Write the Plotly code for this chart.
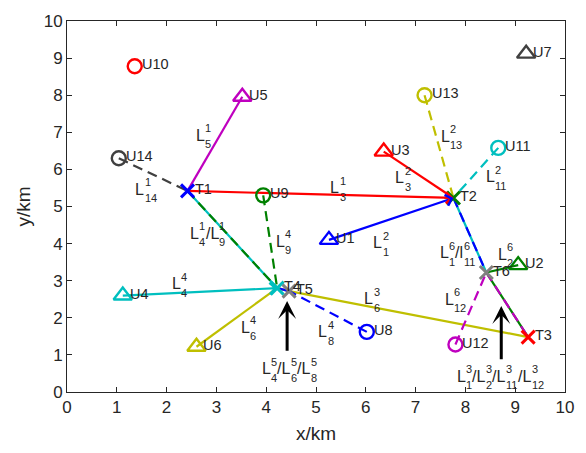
import plotly.graph_objects as go

# ---- node coordinates (km) ----
user_names = ["U1", "U2", "U3", "U4", "U5", "U6", "U7",
              "U8", "U9", "U10", "U11", "U12", "U13", "U14"]
user_x = [5.26, 9.06, 6.36, 1.12, 3.52, 2.60, 9.22,
          6.02, 3.94, 1.36, 8.66, 7.80, 7.18, 1.04]
user_y = [4.10, 3.42, 6.48, 2.60, 7.96, 1.22, 9.12,
          1.62, 5.30, 8.78, 6.58, 1.28, 8.00, 6.30]

relay_names = ["T1", "T2", "T3", "T4", "T5", "T6"]
relay_x = [2.42, 7.76, 9.26, 4.22, 4.46, 8.42]
relay_y = [5.42, 5.23, 1.48, 2.80, 2.72, 3.22]

# ---- links: (from, to, colour key, dashed, arrowhead) ----
links = [
    ("U5", "T1", "m", False, True),
    ("U14", "T1", "k", True, False),
    ("T1", "T2", "r", False, True),
    ("U3", "T2", "r", False, True),
    ("U13", "T2", "y", True, False),
    ("U11", "T2", "c", True, False),
    ("U1", "T2", "b", False, True),
    ("T1", "T4", "c", False, False),
    ("T1", "T4", "g", True, False),
    ("U9", "T4", "g", True, False),
    ("U4", "T4", "c", False, True),
    ("U6", "T4", "y", False, True),
    ("T4", "T5", "y", False, False),
    ("T5", "T3", "y", False, False),
    ("U8", "T5", "b", True, False),
    ("T5", "T4", "b", True, False),
    ("T2", "T6", "c", False, False),
    ("T2", "T6", "b", True, False),
    ("U2", "T6", "g", False, True),
    ("U12", "T6", "m", True, False),
    ("T6", "T3", "g", False, False),
    ("T6", "T3", "m", True, False),
]

# ---- link labels: anchor (km) and (base, subscript, superscript) pieces ----
link_labels = [
    (2.68, 6.92, [("L", "5", "1")]),
    (1.46, 5.46, [("L", "14", "1")]),
    (5.38, 5.51, [("L", "3", "1")]),
    (6.68, 5.77, [("L", "3", "2")]),
    (7.60, 6.89, [("L", "13", "2")]),
    (8.50, 5.80, [("L", "11", "2")]),
    (6.24, 4.02, [("L", "1", "2")]),
    (7.58, 3.76, [("L", "1", "6"), ("/l", "11", "6")]),
    (8.74, 3.71, [("L", "2", "6")]),
    (7.68, 2.50, [("L", "12", "6")]),
    (6.06, 2.51, [("L", "6", "3")]),
    (5.14, 1.62, [("L", "8", "4")]),
    (3.58, 1.75, [("L", "6", "4")]),
    (2.20, 2.92, [("L", "4", "4")]),
    (4.28, 4.07, [("L", "9", "4")]),
    (2.56, 4.28, [("L", "4", "1"), ("/L", "9", "1")]),
    (4.00, 0.63, [("L", "4", "5"), ("/L", "6", "5"), ("/L", "8", "5")]),
    (7.92, 0.42, [("L", "1", "3"), ("/L", "2", "3"), ("/L", "11", "3"), ("/L", "12", "3")]),
]

# ---- pointer arrows (x, tail y, tip y) ----
pointer_x = [4.42, 8.72]
pointer_tail_y = [1.07, 0.84]
pointer_tip_y = [2.45, 2.32]

COL = {
    "b": "#0000FF", "g": "#008000", "r": "#FF0000", "c": "#00BFBF",
    "m": "#BF00BF", "y": "#BFBF00", "k": "#404040", "gray": "#808080",
}
user_cols = ["b", "g", "r", "c", "m", "y", "k"] * 2
relay_cols = ["b", "g", "r", "c", "gray", "gray"]
FONT = "Liberation Sans, Arial, sans-serif"
TXT = "#262626"

pos = {n: (x, y) for n, x, y in zip(user_names, user_x, user_y)}
pos.update({n: (x, y) for n, x, y in zip(relay_names, relay_x, relay_y)})

fig = go.Figure()
annotations = []

for a, b, ck, dashed, arrow in links:
    (x0, y0), (x1, y1) = pos[a], pos[b]
    fig.add_trace(go.Scatter(
        x=[x0, x1], y=[y0, y1], mode="lines", hoverinfo="skip",
        line=dict(color=COL[ck], width=2.2, dash="10px,6px" if dashed else "solid"),
        showlegend=False))
    if arrow:
        # short shaft near the end so only the head is added on top of the line
        sx, sy = x1 - 0.04 * (x1 - x0), y1 - 0.04 * (y1 - y0)
        annotations.append(dict(
            x=x1, y=y1, ax=sx, ay=sy, xref="x", yref="y", axref="x", ayref="y",
            text="", showarrow=True, arrowhead=4, arrowsize=1.1, arrowwidth=2,
            arrowcolor=COL[ck], standoff=0, startstandoff=0))

# users: first seven triangles, last seven circles
for i, (n, x, y) in enumerate(zip(user_names, user_x, user_y)):
    sym = "triangle-up-open" if i < 7 else "circle-open"
    fig.add_trace(go.Scatter(
        x=[x], y=[y], mode="markers", hoverinfo="skip", showlegend=False,
        marker=dict(symbol=sym, size=16 if i < 7 else 14,
                    color=COL[user_cols[i]], line=dict(width=2.4, color=COL[user_cols[i]]))))
    annotations.append(dict(x=x, y=y, xref="x", yref="y", text=n, showarrow=False,
                            xanchor="left", yanchor="middle", xshift=5, yshift=2,
                            font=dict(family=FONT, size=14.5, color=TXT)))

for i, (n, x, y) in enumerate(zip(relay_names, relay_x, relay_y)):
    fig.add_trace(go.Scatter(
        x=[x], y=[y], mode="markers", hoverinfo="skip", showlegend=False,
        marker=dict(symbol="x-thin-open", size=13,
                    color=COL[relay_cols[i]], line=dict(width=3, color=COL[relay_cols[i]]))))
    annotations.append(dict(x=x, y=y, xref="x", yref="y", text=n, showarrow=False,
                            xanchor="left", yanchor="middle", xshift=5, yshift=2,
                            font=dict(family=FONT, size=14.5, color=TXT)))

# stacked sub/superscript labels
BASE, SMALL = 16, 11
W = {"L": 0.556, "l": 0.222, "/": 0.278}
for lx, ly, pieces in link_labels:
    cur = -4.5
    for base, sub, sup in pieces:
        annotations.append(dict(x=lx, y=ly, xref="x", yref="y", text=base, showarrow=False,
                                xanchor="left", yanchor="middle", xshift=cur,
                                borderpad=0, borderwidth=0,
                                font=dict(family=FONT, size=BASE, color=TXT)))
        cur += sum(W.get(ch, 0.556) for ch in base) * BASE
        for txt, dy in ((sup, 7), (sub, -9)):
            annotations.append(dict(x=lx, y=ly, xref="x", yref="y", text=txt, showarrow=False,
                                    xanchor="left", yanchor="middle", xshift=cur + 0.5, yshift=dy,
                                    borderpad=0, borderwidth=0,
                                    font=dict(family=FONT, size=SMALL, color=TXT)))
        cur += max(len(sub), len(sup)) * 0.556 * SMALL + 0.5

for px, ty, hy in zip(pointer_x, pointer_tail_y, pointer_tip_y):
    annotations.append(dict(x=px, y=hy, ax=px, ay=ty, xref="x", yref="y",
                            axref="x", ayref="y", text="", showarrow=True,
                            arrowhead=3, arrowsize=1.0, arrowwidth=3,
                            arrowcolor="#000000", standoff=0, startstandoff=0))

axis_common = dict(
    range=[0, 10], dtick=1, tick0=0, showgrid=False, zeroline=False,
    showline=True, linecolor=TXT, linewidth=1, mirror="ticks",
    ticks="inside", ticklen=5, tickcolor=TXT,
    tickfont=dict(family=FONT, size=17, color=TXT),
)
fig.update_layout(
    width=586, height=453,
    margin=dict(l=67, r=19, t=13, b=60),
    paper_bgcolor="white", plot_bgcolor="white",
    xaxis=dict(axis_common, title=dict(text="x/km", standoff=10,
                                       font=dict(family=FONT, size=19, color=TXT))),
    yaxis=dict(axis_common, title=dict(text="y/km", standoff=8,
                                       font=dict(family=FONT, size=19, color=TXT))),
    annotations=annotations,
    showlegend=False,
)

fig.write_html("out.html")
